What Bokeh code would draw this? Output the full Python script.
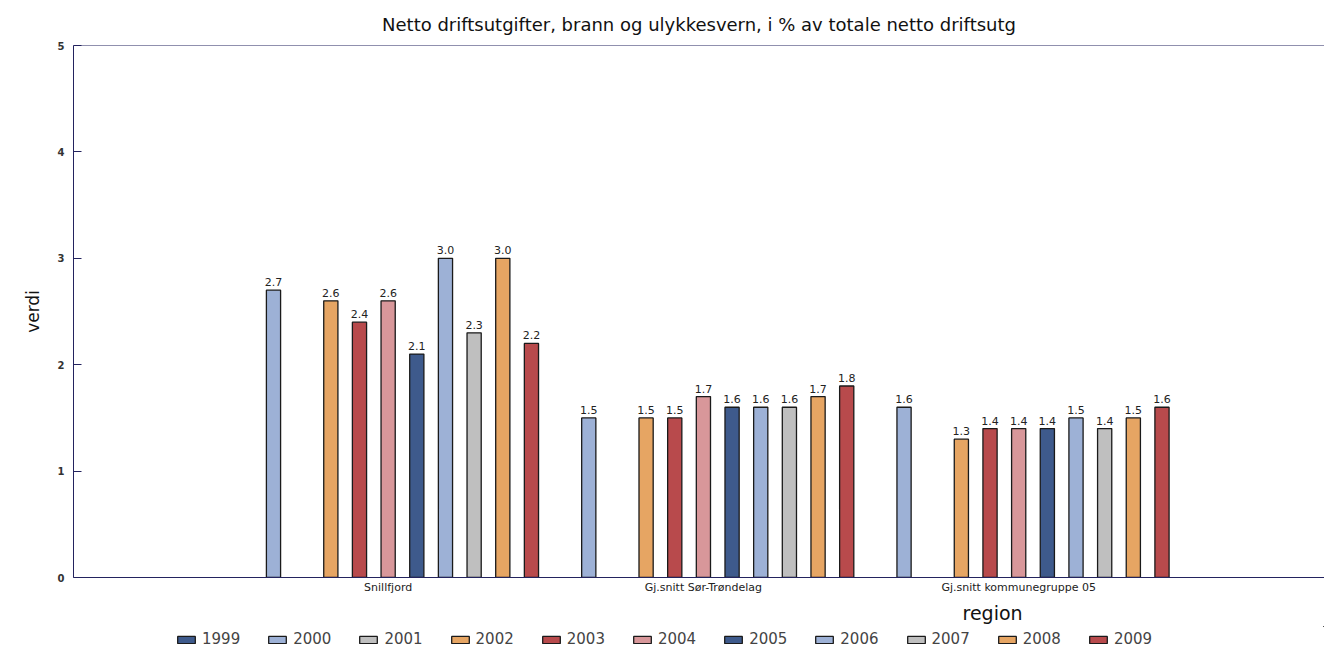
import math
from bokeh.plotting import figure
from bokeh.layouts import column
from bokeh.models import (ColumnDataSource, Range1d, FixedTicker, Span, Title,
                          Legend, LegendItem)
from bokeh.transform import dodge
from bokeh.embed import file_html
from bokeh.resources import INLINE

nan = float("nan")

title = "Netto driftsutgifter, brann og ulykkesvern, i % av totale netto driftsutg"
regions = ["Snillfjord", "Gj.snitt Sør-Trøndelag", "Gj.snitt kommunegruppe 05"]
years = ["1999", "2000", "2001", "2002", "2003", "2004", "2005", "2006", "2007", "2008", "2009"]
snillfjord = [nan, 2.7, nan, 2.6, 2.4, 2.6, 2.1, 3.0, 2.3, 3.0, 2.2]
sor_trondelag = [nan, 1.5, nan, 1.5, 1.5, 1.7, 1.6, 1.6, 1.6, 1.7, 1.8]
kommunegruppe_05 = [nan, 1.6, nan, 1.3, 1.4, 1.4, 1.4, 1.5, 1.4, 1.5, 1.6]
y_ticks = [0, 1, 2, 3, 4, 5]

colors = ["#3E5A8C", "#9DB1D6", "#BFBFBF", "#E6A563", "#B84A4C", "#D8979A",
          "#3E5A8C", "#9DB1D6", "#BFBFBF", "#E6A563", "#B84A4C"]

FONT = "DejaVu Sans"
AXIS_COLOR = "#23235E"
BAR_LINE = "#1A1A1A"

MAIN_H = 626
LEG_H = 22
p = figure(width=1324, height=MAIN_H, output_backend="svg", toolbar_location=None,
           x_range=Range1d(-0.998, 2.970), y_range=Range1d(0, 5),
           min_border_left=73, min_border_right=0, min_border_top=44,
           min_border_bottom=MAIN_H - 577)

p.title.text = title
p.title.align = "center"
p.title.text_font = FONT
p.title.text_font_size = "18px"
p.title.text_font_style = "normal"
p.title.text_color = "#111111"
p.title.standoff = 22

p.outline_line_color = None
p.xgrid.visible = False
p.ygrid.visible = False
p.background_fill_color = "white"

n = len(years)
slot = 1.0 / n
bar_w = 0.045
group_idx = list(range(len(regions)))
sources = []
for i, yr in enumerate(years):
    vals = [snillfjord[i], sor_trondelag[i], kommunegruppe_05[i]]
    lbls = ["" if math.isnan(v) else f"{v:.1f}" for v in vals]
    src = ColumnDataSource(dict(g=group_idx, v=vals, lbl=lbls))
    sources.append(src)
    off = (i - (n - 1) / 2) * slot
    p.vbar(x=dodge("g", off), top="v", width=bar_w, source=src,
           fill_color=colors[i], line_color=BAR_LINE, line_width=1.3)
    p.text(x=dodge("g", off), y="v", text="lbl", source=src,
           text_align="center", text_baseline="bottom", y_offset=-4,
           text_font_size="11px", text_color="#222222",
           text_font={"value": FONT})

# top border line
p.add_layout(Span(location=5, dimension="width", line_color=AXIS_COLOR, line_width=1))

# x axis
xa = p.xaxis[0]
xa.ticker = FixedTicker(ticks=group_idx)
xa.major_label_overrides = {i: r for i, r in enumerate(regions)}
xa.major_tick_line_color = None
xa.minor_tick_line_color = None
xa.major_tick_in = 0
xa.major_tick_out = 0
xa.axis_line_color = AXIS_COLOR
xa.major_label_text_font = FONT
xa.major_label_text_font_size = "11px"
xa.major_label_text_color = "#222222"
xa.major_label_standoff = 3

# y axis
ya = p.yaxis[0]
ya.ticker = FixedTicker(ticks=y_ticks)
ya.axis_label = "verdi"
ya.axis_label_text_font = FONT
ya.axis_label_text_font_size = "17px"
ya.axis_label_text_font_style = "normal"
ya.axis_label_text_color = "#111111"
ya.axis_label_standoff = 12
ya.axis_line_color = AXIS_COLOR
ya.major_tick_in = 8
ya.major_tick_out = 0
ya.major_tick_line_color = AXIS_COLOR
ya.minor_tick_line_color = None
ya.major_label_text_font = FONT
ya.major_label_text_font_size = "10px"
ya.major_label_text_font_style = "bold"
ya.major_label_text_color = "#333333"
ya.major_label_standoff = 9

# x axis title "region" (placed right of centre as in the reference)
p.add_layout(Title(text="region", align="left", offset=889, text_font=FONT,
                   text_font_size="19px", text_font_style="normal",
                   text_color="#111111", standoff=6), "below")

# legend strip below the chart (frames are aligned with the main chart)
lg = figure(width=1324, height=LEG_H, output_backend="svg", toolbar_location=None,
            x_range=Range1d(-10, -9), y_range=Range1d(-10, -9),
            min_border=0, outline_line_color=None)
lg.axis.visible = False
lg.grid.visible = False
items = []
for i, yr in enumerate(years):
    r = lg.vbar(x="g", top="v", width=bar_w, source=sources[i],
                fill_color=colors[i], line_color=BAR_LINE, line_width=1.3)
    items.append(LegendItem(label=yr, renderers=[r]))
legend = Legend(items=items, orientation="horizontal", location=(102, 0),
                glyph_width=22, glyph_height=9, label_standoff=5, spacing=26,
                padding=0, margin=0, border_line_color=None,
                background_fill_alpha=0, label_text_font=FONT,
                label_text_font_size="15px", label_height=9,
                label_text_baseline="middle")
lg.add_layout(legend)

layout = column(p, lg, spacing=0)
open("out.html", "w").write(file_html(layout, INLINE))
